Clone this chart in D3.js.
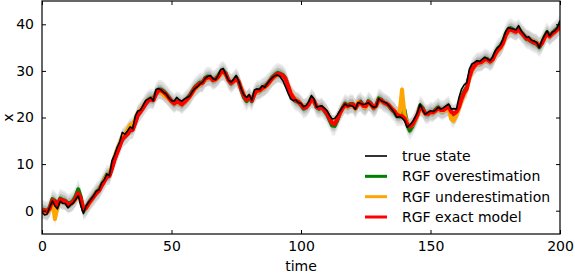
<!DOCTYPE html>
<html><head><meta charset="utf-8">
<script src="https://cdn.jsdelivr.net/npm/d3@7"></script>
<style>body{margin:0;background:#fff}svg{display:block}text{font-family:"DejaVu Sans",sans-serif}</style>
</head><body><svg id="c" width="575" height="274"></svg>
<script>
const xTicks = [0, 50, 100, 150, 200];
const yTicks = [0, 10, 20, 30, 40];
const seriesNames = ["true state", "RGF overestimation", "RGF underestimation", "RGF exact model"];
const seriesColors = ["#000000", "#008000", "#ffa500", "#ff0000"];

const trueState = [-0.3,-0.9,-0.7,0.8,2.1,1.0,0.4,2.0,1.6,1.5,0.6,1.2,1.6,2.4,3.2,1.0,-0.6,1.0,1.8,2.5,
3.3,4.2,4.5,6.0,6.6,7.9,7.5,10.7,12.0,13.6,14.8,16.8,16.4,17.1,18.0,17.6,20.3,21.4,21.6,22.6,
23.6,24.0,24.3,23.6,26.0,26.2,25.9,25.4,25.0,24.2,23.6,23.5,24.3,23.8,23.5,24.0,24.3,24.6,25.5,26.2,
26.6,27.2,27.6,28.4,28.8,29.0,28.3,28.1,29.0,30.3,30.5,29.2,28.0,27.6,28.2,29.0,27.7,26.0,24.8,24.3,
24.9,23.7,25.9,26.1,26.0,26.8,26.5,27.3,28.0,28.6,29.0,29.1,28.7,27.9,26.6,25.2,24.0,23.6,23.8,23.2,
23.0,22.3,22.6,23.4,24.7,24.0,22.2,22.4,22.5,22.0,21.5,20.5,19.7,19.8,20.5,21.4,22.2,22.9,22.5,22.6,
22.4,21.8,23.2,23.0,22.8,22.9,23.2,22.6,22.2,22.3,24.0,23.6,23.3,23.1,22.5,21.8,21.1,20.0,20.2,19.9,
19.3,17.9,18.4,19.0,20.0,21.1,22.9,21.5,20.7,21.1,21.4,21.3,21.6,22.2,21.8,22.1,22.5,22.9,21.8,21.9,
21.8,24.3,26.1,27.0,27.5,30.4,31.5,31.8,32.2,32.0,32.5,32.9,32.6,32.2,33.0,34.3,35.0,35.6,36.8,38.4,
39.3,39.1,39.0,38.8,39.7,38.6,37.9,37.2,37.3,36.6,36.4,36.1,35.0,36.5,37.6,38.6,37.5,38.3,38.6,39.3,40.8];

const exactEst = [0.2,0.0,-0.2,0.5,2.2,2.0,1.2,2.4,2.2,2.0,1.4,1.5,1.9,2.7,3.8,2.6,0.2,0.6,1.5,2.3,
3.0,3.8,4.3,5.3,6.2,7.2,7.4,9.0,10.9,12.4,13.8,15.3,15.9,16.4,17.2,17.3,18.8,20.5,21.2,22.0,
22.9,23.6,23.9,23.7,25.0,25.8,25.8,25.4,24.9,24.2,23.5,23.0,23.4,23.2,22.8,23.3,23.9,24.5,25.4,26.3,
26.8,27.3,27.4,28.3,28.6,28.6,28.0,28.2,28.7,29.6,29.9,29.3,28.0,27.4,27.8,28.5,27.6,26.0,24.6,23.8,
24.5,23.6,25.0,25.8,25.8,26.3,26.6,27.1,27.8,28.5,29.0,29.4,29.3,29.0,28.3,26.8,25.2,24.3,23.6,23.4,
22.8,22.1,22.2,22.8,23.9,23.6,22.3,22.0,22.2,21.6,20.9,19.8,18.8,18.6,19.6,20.9,21.9,22.8,22.4,22.8,
22.8,22.0,22.9,23.2,22.5,22.4,23.3,22.9,22.1,22.5,23.8,23.7,23.2,23.0,22.6,21.9,21.4,20.6,20.4,20.3,
19.8,18.6,18.0,18.5,19.5,20.6,22.2,21.8,20.8,20.8,21.2,21.1,21.5,22.0,21.6,21.6,22.0,22.3,21.2,20.8,
21.2,22.2,24.0,25.3,26.2,28.6,30.3,31.1,31.7,31.8,32.0,32.5,32.4,32.0,32.4,33.6,34.5,35.0,36.0,37.6,
38.6,38.9,38.6,38.4,38.9,38.2,37.6,37.0,36.8,36.4,36.1,35.9,35.3,35.9,37.1,38.0,37.4,38.0,38.4,38.9,39.6];

const overEst = [0.3,0.1,-0.1,0.7,2.5,2.1,1.3,2.6,2.3,2.1,1.5,1.7,2.1,3.1,4.6,2.9,0.0,0.6,1.6,2.4,
3.1,4.0,4.5,5.6,6.6,7.7,7.6,9.3,11.1,12.6,14.0,15.5,16.1,16.6,17.4,17.5,19.0,20.6,21.4,22.2,
23.1,23.8,24.1,23.9,25.3,26.0,26.0,25.6,25.0,24.3,23.6,23.0,23.5,23.3,22.8,23.4,24.0,24.7,25.6,26.5,
27.0,27.5,27.5,28.5,28.8,28.7,28.0,28.3,28.9,29.8,30.0,29.4,28.0,27.3,27.8,28.6,27.6,25.8,24.3,23.5,
24.4,23.5,25.1,25.9,25.9,26.4,26.7,27.2,27.9,28.7,29.2,29.6,29.4,29.1,28.4,26.8,25.0,24.1,23.5,23.3,
22.7,21.9,22.2,22.9,24.1,23.6,22.2,21.9,22.2,21.5,20.7,19.5,18.3,18.2,19.4,20.9,22.0,23.0,22.5,22.9,
22.9,21.9,23.0,23.4,22.6,22.3,23.5,23.0,22.0,22.5,24.1,23.8,23.2,22.9,22.5,21.7,21.2,20.3,20.2,20.4,
21.6,18.4,17.2,18.1,19.3,20.6,22.6,22.0,20.8,20.7,21.2,21.1,21.7,22.2,21.6,21.6,22.1,22.5,21.1,20.6,
21.1,22.3,24.3,25.6,26.5,28.9,30.6,31.3,31.9,31.9,32.1,32.7,32.5,32.0,32.5,33.8,34.8,35.3,36.3,37.9,
38.9,39.2,38.8,38.5,39.1,38.3,37.6,36.9,36.7,36.3,36.0,35.8,35.1,35.9,37.3,38.3,37.5,38.1,38.6,39.1,39.9];

const underEst = [0.0,-0.2,-0.4,0.2,1.8,-1.8,0.8,2.1,2.0,1.8,1.2,1.4,1.8,2.4,3.3,2.3,0.2,0.5,1.4,2.2,
3.0,3.8,4.3,5.5,6.5,7.6,7.6,9.6,11.6,13.1,14.5,15.9,16.3,17.4,18.4,18.6,19.6,21.0,21.6,22.4,
23.1,23.8,24.0,23.8,25.0,25.6,25.4,24.8,24.4,23.9,23.4,23.0,23.3,23.1,22.8,23.2,23.7,24.3,25.2,26.0,
26.6,27.1,27.3,28.1,28.4,28.5,28.0,28.1,28.5,29.3,29.7,29.2,28.0,27.4,27.7,28.3,27.6,26.1,24.8,24.1,
24.5,23.8,24.9,25.6,25.7,26.1,26.4,26.9,27.6,28.3,28.8,29.1,29.1,28.8,28.2,26.9,25.4,24.5,23.8,23.5,
22.9,22.3,22.3,22.8,23.7,23.5,22.4,22.1,22.2,21.7,21.1,20.1,19.2,19.0,19.8,20.9,21.8,22.6,22.3,22.6,
22.6,21.9,23.3,23.0,22.4,22.2,23.0,22.8,22.1,22.4,23.6,23.6,23.2,23.0,22.6,22.0,21.5,20.8,20.6,26.0,
20.5,18.8,18.1,18.4,19.3,20.4,21.8,21.6,20.8,20.8,21.1,21.0,21.3,21.8,21.5,21.4,21.7,21.8,19.6,19.3,
20.6,21.9,23.6,25.0,26.0,28.3,30.0,30.9,31.5,31.7,31.9,32.3,32.3,32.0,32.3,33.4,34.3,34.8,35.8,37.4,
38.4,38.8,38.6,38.4,38.8,38.3,37.7,37.1,36.9,36.5,36.2,36.0,35.5,35.9,36.9,37.9,37.4,37.9,38.3,38.8,39.5];

const bandSigma = [1.05, 0.75, 0.9]; // over, under, exact (approx. spread of grey bands)

const svg = d3.select("#c");
const m = {l: 42, r: 560, t: 1, b: 234};
const x = d3.scaleLinear().domain([0, 200]).range([m.l, m.r]);
const y = d3.scaleLinear().domain([-5, 45]).range([m.b, m.t]);
const idx = d3.range(trueState.length);

const plot = svg.append("g");
plot.append("defs").append("clipPath").attr("id", "clip")
  .append("rect").attr("x", m.l).attr("y", m.t).attr("width", m.r - m.l).attr("height", m.b - m.t);
const g = plot.append("g").attr("clip-path", "url(#clip)");

const ests = [overEst, underEst, exactEst];
const bandTint = ["#5f8a5f", "#888888", "#888888"];
ests.forEach((s, k) => {
  [2, 1].forEach(mult => {
    const area = d3.area().x(i => x(i)).y0(i => y(s[i] - mult * bandSigma[k])).y1(i => y(s[i] + mult * bandSigma[k]));
    g.append("path").datum(idx).attr("d", area)
      .attr("fill", mult === 2 ? "#9a9a9a" : bandTint[k]).attr("fill-opacity", mult === 2 ? 0.2 : 0.25);
  });
});

const line = s => d3.line().x(i => x(i)).y(i => y(s[i]));
[[overEst, 1], [underEst, 2], [exactEst, 3]].forEach(([s, k]) => {
  g.append("path").datum(idx).attr("d", line(s)).attr("fill", "none")
    .attr("stroke", seriesColors[k]).attr("stroke-width", 4).attr("stroke-linejoin", "round");
});
g.append("path").datum(idx).attr("d", line(trueState)).attr("fill", "none")
  .attr("stroke", seriesColors[0]).attr("stroke-width", 1.6).attr("stroke-linejoin", "round");

svg.append("rect").attr("x", m.l).attr("y", m.t).attr("width", m.r - m.l).attr("height", m.b - m.t)
  .attr("fill", "none").attr("stroke", "#000").attr("stroke-width", 1.2);

const fs = 14;
const ax = svg.append("g").attr("transform", `translate(0,${m.b})`)
  .call(d3.axisBottom(x).tickValues(xTicks).tickSize(-4).tickPadding(8).tickFormat(d3.format("d")));
const ay = svg.append("g").attr("transform", `translate(${m.l},0)`)
  .call(d3.axisLeft(y).tickValues(yTicks).tickSize(-4).tickPadding(8).tickFormat(d3.format("d")));
svg.append("g").attr("transform", `translate(0,${m.t})`)
  .call(d3.axisTop(x).tickValues(xTicks).tickSize(-4).tickFormat(""));
svg.append("g").attr("transform", `translate(${m.r},0)`)
  .call(d3.axisRight(y).tickValues(yTicks).tickSize(-4).tickFormat(""));
svg.selectAll(".domain").remove();
svg.selectAll(".tick line").attr("stroke", "#000");
svg.selectAll(".tick text").attr("font-size", fs).attr("fill", "#000").style("font-family", "DejaVu Sans");
ax.selectAll(".tick text").attr("dy", "0.71em").attr("y", 7);

svg.append("text").attr("x", (m.l + m.r) / 2).attr("y", 271).attr("text-anchor", "middle")
  .attr("font-size", fs).text("time");
svg.append("text").attr("transform", `translate(13,${(m.t + m.b) / 2}) rotate(-90)`)
  .attr("text-anchor", "middle").attr("font-size", fs).text("x");

const lg = svg.append("g");
const legY = d3.scalePoint().domain(seriesNames).range([156, 217]);
seriesNames.forEach((n, k) => {
  lg.append("line").attr("x1", 365).attr("x2", 387).attr("y1", legY(n)).attr("y2", legY(n))
    .attr("stroke", seriesColors[k]).attr("stroke-width", k === 0 ? 1.6 : 3);
  lg.append("text").attr("x", 402).attr("y", legY(n)).attr("dy", "0.35em").attr("font-size", fs).text(n);
});
</script></body></html>
